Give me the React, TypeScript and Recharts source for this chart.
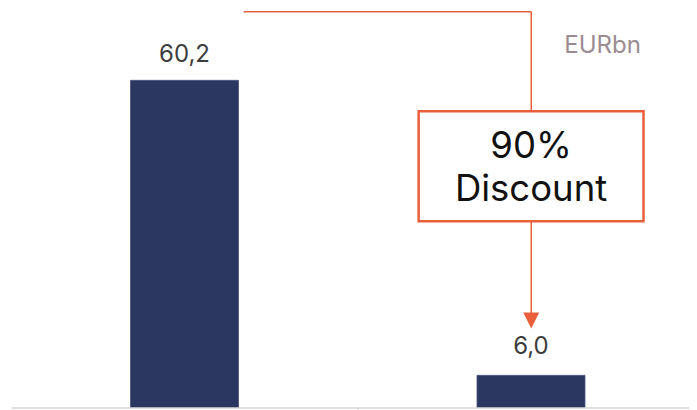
import { BarChart, Bar, XAxis, YAxis, LabelList, ReferenceLine, ReferenceArea, ReferenceDot } from "recharts";

// bar data
const categories = ["Full price", "After discount"];
const positions = [0.5, 1.5];
const values = [60.2, 6.0];

// annotation (data units: x axis 0..2, y axis 0..70)
const bracketY = 72.8;
const bracketX = [0.67, 1.5];
const boxX = [1.175, 1.824];
const boxY = [34.3, 54.5];
const arrowTipY = 14.6;
const boxLines = ["90%", "Discount"];
const unitLabel = "EURbn";
const unitPos = { x: 1.706, y: 66.8 };

const data = categories.map((name, i) => ({ name, pos: positions[i], value: values[i] }));

const ORANGE = "#ea5f3b";
const NAVY = "#2b3760";
const FONT = "Inter, 'Noto Sans', sans-serif";
const labelGap = [18, 21];

function ValueLabel(props: any) {
  const { x, y, width, value, index } = props;
  const cx = Number(x) + Number(width) / 2;
  return (
    <text
      x={cx}
      y={Number(y) - labelGap[index ?? 0]}
      textAnchor="middle"
      fontSize={24}
      fontFamily={FONT}
      fill="#3d3d3d"
    >
      {Number(value).toFixed(1).replace(".", ",")}
    </text>
  );
}

function BoxLabel(props: any) {
  const vb = props.viewBox || {};
  const cx = vb.x + vb.width / 2;
  const cy = vb.y + vb.height / 2;
  return (
    <g>
      {boxLines.map((line, i) => (
        <text
          key={line}
          x={cx}
          y={cy + (i - 0.5) * 43}
          dy="0.35em"
          textAnchor="middle"
          fontSize={36.5}
          fontFamily={FONT}
          fill="#111"
        >
          {line}
        </text>
      ))}
    </g>
  );
}

function ArrowHead(props: any) {
  const { cx, cy } = props;
  return <polygon points={`${cx - 8},${cy - 16} ${cx + 8},${cy - 16} ${cx},${cy}`} fill={ORANGE} />;
}

function UnitText(props: any) {
  const { cx, cy } = props;
  return (
    <text x={cx} y={cy} dy="0.35em" textAnchor="middle" fontSize={24} fontFamily={FONT} fill="#9b8b92">
      {unitLabel}
    </text>
  );
}

export default function App() {
  return (
    <div style={{ width: 697, height: 410, overflow: "hidden", margin: "-8px -8px 0 -8px", background: "#fff" }}>
      <BarChart width={720} height={418} data={data} margin={{ top: 27, right: 15.5, left: 11.5, bottom: 10 }}>
        <XAxis dataKey="pos" type="number" domain={[0, 2]} allowDataOverflow hide />
        <YAxis hide domain={[0, 70]} allowDataOverflow />
        {/* axis line with the tick between the two categories */}
        <ReferenceLine
          segment={[
            { x: 0, y: 0 },
            { x: 2, y: 0 },
          ]}
          stroke="#d4d4d4"
          strokeWidth={1.5}
          ifOverflow="visible"
        />
        <ReferenceLine
          segment={[
            { x: 1, y: 0 },
            { x: 1, y: -1 },
          ]}
          stroke="#d4d4d4"
          strokeWidth={1}
          ifOverflow="visible"
        />
        <Bar dataKey="value" fill={NAVY} stroke="#4a5680" strokeWidth={0.8} barSize={108} isAnimationActive={false}>
          <LabelList dataKey="value" content={ValueLabel} />
        </Bar>
        <ReferenceLine
          segment={[
            { x: bracketX[0], y: bracketY },
            { x: bracketX[1], y: bracketY },
          ]}
          stroke={ORANGE}
          strokeWidth={1.5}
          ifOverflow="visible"
        />
        <ReferenceLine
          segment={[
            { x: bracketX[1], y: bracketY },
            { x: bracketX[1], y: boxY[1] },
          ]}
          stroke={ORANGE}
          strokeWidth={1.5}
          ifOverflow="visible"
        />
        <ReferenceLine
          segment={[
            { x: bracketX[1], y: boxY[0] },
            { x: bracketX[1], y: arrowTipY + 2 },
          ]}
          stroke={ORANGE}
          strokeWidth={1.5}
          ifOverflow="visible"
        />
        <ReferenceArea
          x1={boxX[0]}
          x2={boxX[1]}
          y1={boxY[0]}
          y2={boxY[1]}
          fill="#fff"
          fillOpacity={1}
          stroke={ORANGE}
          strokeWidth={2.5}
          ifOverflow="visible"
          label={BoxLabel}
        />
        <ReferenceDot x={bracketX[1]} y={arrowTipY} shape={ArrowHead} ifOverflow="visible" />
        <ReferenceDot x={unitPos.x} y={unitPos.y} shape={UnitText} ifOverflow="visible" />
      </BarChart>
    </div>
  );
}
